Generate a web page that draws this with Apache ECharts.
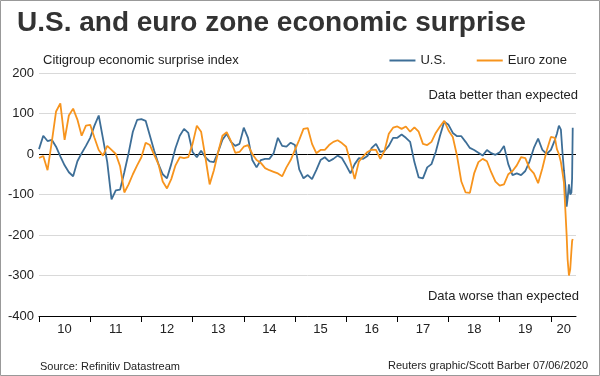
<!DOCTYPE html>
<html>
<head>
<meta charset="utf-8">
<title>U.S. and euro zone economic surprise</title>
<script src="https://cdn.jsdelivr.net/npm/echarts@6/dist/echarts.min.js"></script>
<style>
  body { margin: 0; background: #fff; }
  #main { width: 600px; height: 376px; }
</style>
</head>
<body>
<div id="main"></div>
<script type="text/javascript">
// month starts Jan 2010 .. Jan 2020, then some closer points up to early June 2020
var months = [];
for (var i = 0; i <= 120; i++) months.push(2010 + i / 12);
var extra2020 = [2020.039, 2020.078, 2020.117, 2020.156, 2020.195, 2020.225, 2020.254, 2020.283,
                 2020.307, 2020.326, 2020.352, 2020.377, 2020.400, 2020.414, 2020.426];
var dates = months.concat(extra2020);

// Citigroup economic surprise index, U.S.
var usIndex = [
  12, 45, 32, 35, 18, -6, -28, -45, -55, -18,
  2, 20, 40, 70, 95, 38, -20, -112, -90, -88,
  -45, 2, 55, 84, 86, 82, 45, 8, -25, -50,
  -60, -25, 15, 45, 62, 52, 5, -8, 8, -8,
  -18, -20, 5, 35, 50, 30, 20, 25, 65, 40,
  -15, -33, -15, -12, -12, 2, 40, 20, 18, 28,
  22, -38, -60, -52, -62, -40, -15, -8, -18, -12,
  -4, -10, -28, -48, -25, -10, -12, -5, 15, 25,
  5, 8, 20, 40, 40, 48, 40, 30, -20, -58,
  -60, -33, -25, 5, 45, 80, 72, 52, 44, 44,
  30, 15, 10, 3, -4, 10, 2, -2, 4, 20,
  -25, -52, -48, -52, -42, -18, 15, 38, 10, 0,
  10,
  10, 35, 50, 70, 60, 5, -40, -80, -130, -110, -75, -100, -95, -60, 65
];

// Citigroup economic surprise index, euro zone
var ezIndex = [
  -10, -5, -40, 30, 105, 125, 35, 95, 112, 85,
  45, 70, 72, 40, 10, -4, 20, 10, 0, -30,
  -95, -75, -50, -28, -8, 28, 22, -2, -25, -68,
  -85, -62, -28, -8, -10, -8, 25, 70, 55, -8,
  -75, -40, 5, 45, 54, 32, 3, 5, 18, 22,
  0, -15, -22, -35, -40, -44, -48, -55, -33, -15,
  10, 35, 62, 64, 25, 2, 10, 10, 22, 30,
  34, 27, 18, -20, -62, -18, -6, 5, 11, 10,
  -12, 8, 50, 65, 68, 62, 68, 55, 66, 55,
  25, 22, 30, 52, 68, 82, 58, 42, -5, -68,
  -95, -96, -48, -20, -12, -18, -45, -68, -78, -75,
  -50, -42, -28, -8, -10, -36, -48, -72, -35, 8,
  42,
  45, 40, 12, 0, -20, -45, -70, -140, -200, -260, -300, -285, -240, -215, -210
];

var yearTicks = [2010, 2011, 2012, 2013, 2014, 2015, 2016, 2017, 2018, 2019, 2020];
var yearLabelPos = [2010.5, 2011.5, 2012.5, 2013.5, 2014.5, 2015.5, 2016.5, 2017.5, 2018.5, 2019.5, 2020.25];
var yearLabels = ['10', '11', '12', '13', '14', '15', '16', '17', '18', '19', '20'];

var font = 'Liberation Sans, Arial, sans-serif';
var blue = '#3d6e97';
var orange = '#f7941d';

function pairs(vals) {
  var out = [];
  for (var i = 0; i < vals.length; i++) out.push([dates[i], vals[i]]);
  return out;
}

var myChart = echarts.init(document.getElementById('main'));
var option = {
  animation: false,
  backgroundColor: '#fff',
  title: [
    { text: 'U.S. and euro zone economic surprise', left: 17, top: 9, padding: 0,
      textStyle: { fontFamily: font, fontSize: 28, fontWeight: 'bold', color: '#333' } },
    { text: 'Citigroup economic surprise index', left: 43, top: 54, padding: 0,
      textStyle: { fontFamily: font, fontSize: 13, fontWeight: 'normal', color: '#222' } },
    { text: 'Source: Refinitiv Datastream', left: 40, top: 361, padding: 0,
      textStyle: { fontFamily: font, fontSize: 11, fontWeight: 'normal', color: '#222' } },
    { text: 'Reuters graphic/Scott Barber 07/06/2020', right: 12, top: 360, padding: 0,
      textStyle: { fontFamily: font, fontSize: 11, fontWeight: 'normal', color: '#222' } }
  ],
  legend: {
    right: 33, top: 54, padding: 0, icon: 'rect', itemWidth: 26, itemHeight: 2, itemGap: 31,
    textStyle: { fontFamily: font, fontSize: 13, color: '#222' },
    data: ['U.S.', 'Euro zone']
  },
  grid: { left: 39, right: 24, top: 73, bottom: 60 },
  xAxis: {
    type: 'value', min: 2010, max: 2020.49,
    splitLine: { show: false },
    axisLine: { onZero: false, lineStyle: { color: '#000', width: 1 } },
    axisTick: { customValues: yearTicks, length: 6, lineStyle: { color: '#000' } },
    axisLabel: {
      customValues: yearLabelPos, margin: 7,
      fontFamily: font, fontSize: 13, color: '#222',
      formatter: function (v) {
        var k = yearLabelPos.indexOf(v);
        return k >= 0 ? yearLabels[k] : '';
      }
    }
  },
  yAxis: {
    type: 'value', min: -400, max: 200, interval: 100,
    axisLine: { show: false }, axisTick: { show: false },
    axisLabel: { margin: 5, fontFamily: font, fontSize: 13, color: '#222' },
    splitLine: { lineStyle: { width: 1,
      color: ['#000', '#d9d9d9', '#d9d9d9', '#d9d9d9', '#000', '#d9d9d9', '#d9d9d9'] } }
  },
  graphic: [
    { type: 'text', right: 22, top: 89,
      style: { text: 'Data better than expected', font: '13px Liberation Sans, Arial, sans-serif', fill: '#222' } },
    { type: 'text', right: 21, top: 290,
      style: { text: 'Data worse than expected', font: '13px Liberation Sans, Arial, sans-serif', fill: '#222' } },
    { type: 'rect', silent: true, shape: { x: 0.5, y: 0.5, width: 599, height: 375 },
      style: { fill: 'none', stroke: '#999', lineWidth: 1 } }
  ],
  series: [
    { name: 'U.S.', type: 'line', data: pairs(usIndex), showSymbol: false,
      lineStyle: { width: 1.8, color: blue }, itemStyle: { color: blue } },
    { name: 'Euro zone', type: 'line', data: pairs(ezIndex), showSymbol: false,
      lineStyle: { width: 1.8, color: orange }, itemStyle: { color: orange } }
  ]
};
myChart.setOption(option);
</script>
</body>
</html>
